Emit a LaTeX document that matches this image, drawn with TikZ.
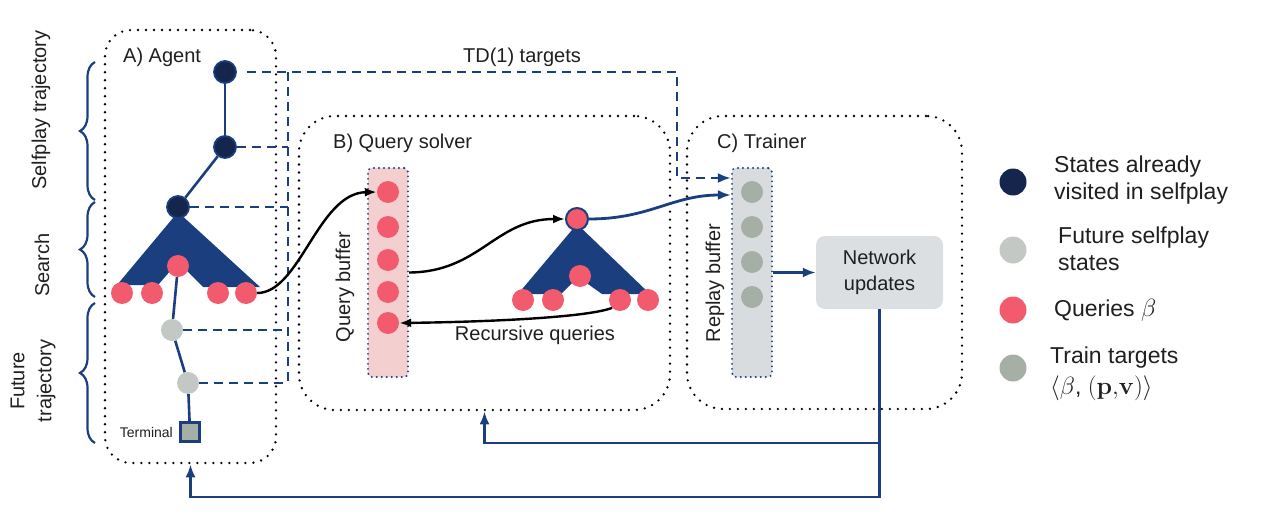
\documentclass[tikz,border=0pt]{standalone}
\usepackage[no-math]{fontspec}
\setmainfont{Liberation Sans}
\usetikzlibrary{arrows.meta,decorations.pathreplacing,calc}
\definecolor{dblue}{HTML}{1B3F7E}
\definecolor{navy}{HTML}{14264C}
\definecolor{qpink}{HTML}{F25A6E}
\definecolor{fgray}{HTML}{C4C8C4}
\definecolor{tgray}{HTML}{A6AFA5}
\definecolor{qbfill}{HTML}{F3CFCF}
\definecolor{rbfill}{HTML}{D8DCDF}
\definecolor{nufill}{HTML}{DCDFE2}
\begin{document}
\begin{tikzpicture}[x=1pt,y=-1pt,
 box/.style={draw=black, line width=2.6pt, dash pattern=on 0pt off 8pt, line cap=round, rounded corners=30pt, inner sep=0pt},
 buf/.style={draw=dblue, line width=2.2pt, dash pattern=on 0pt off 5pt, line cap=round, rounded corners=4pt, minimum width=40pt, minimum height=209pt, inner sep=0pt},
 dnode/.style={circle, fill=navy, draw=dblue, line width=1.8pt, minimum size=22pt, inner sep=0pt},
 qnode/.style={circle, fill=qpink, minimum size=22pt, inner sep=0pt},
 fnode/.style={circle, fill=fgray, minimum size=22pt, inner sep=0pt},
 tnode/.style={circle, fill=tgray, minimum size=22pt, inner sep=0pt},
 solidl/.style={draw=dblue, line width=2.6pt},
 tdl/.style={draw=dblue, line width=2.8pt, dash pattern=on 9pt off 6pt},
 curvek/.style={draw=black, line width=2.4pt, -{Latex[length=12pt,width=9pt]}},
 arrb/.style={draw=dblue, line width=2.8pt, -{Latex[length=13pt,width=10pt]}},
 lbl/.style={font=\fontsize{20}{23}\selectfont, text=black!88, inner sep=0pt},
 leg/.style={font=\fontsize{23}{27}\selectfont, text=black!88, inner sep=0pt, anchor=west, align=left},
 brc/.style={draw=dblue, line width=2.2pt, decorate, decoration={brace, amplitude=15pt}},
]
\useasboundingbox (0,0) rectangle (1275,527);

% boxes
\node[box, minimum width=171pt, minimum height=433pt, rounded corners=26pt] (A) at (190.5,246.5) {};
\node[box, minimum width=371pt, minimum height=294pt, rounded corners=36pt] (B) at (484.5,263) {};
\node[box, minimum width=275pt, minimum height=293pt, rounded corners=36pt] (C) at (824.5,262.5) {};

\node[lbl, anchor=west] (Alb) at (123,57) {A) Agent};
\node[lbl, anchor=west] (Blb) at (333,143) {B) Query solver};
\node[lbl, anchor=west] (Clb) at (717,143) {C) Trainer};
\node[lbl] (tdlb) at (522,57) {TD(1) targets};

% braces and side labels
\draw[brc] (95,200) -- (95,62);
\draw[brc] (95,297) -- (95,202);
\draw[brc] (95,443) -- (95,303);
\node[lbl, rotate=90] (l1) at (41,110) {Selfplay trajectory};
\node[lbl, rotate=90] (l2) at (42,265) {Search};
\node[lbl, rotate=90, align=center, font=\fontsize{20}{27}\selectfont] (l3) at (33,381) {Future\\trajectory};

% agent tree
\fill[dblue] (178,212) -- (117,285) -- (158,285) -- (178,262) -- (203,287) -- (260,287) -- cycle;
\node[dnode] (s1) at (225,72) {};
\node[dnode] (s2) at (225,147) {};
\node[dnode] (s3) at (178,207) {};
\draw[solidl] (s1) -- (s2);
\draw[solidl] (s2) -- (s3);
\node[qnode] (am) at (178,266) {};
\node[qnode] (a1) at (122,293) {};
\node[qnode] (a2) at (152,293) {};
\node[qnode] (a3) at (218,293) {};
\node[qnode] (a4) at (246,293) {};
\node[fnode] (f1) at (172,330) {};
\node[fnode] (f2) at (188,383) {};
\node[draw=dblue, line width=2.8pt, fill=tgray, minimum size=19pt, inner sep=0pt] (term) at (190,432) {};
\node[anchor=east, font=\fontsize{14}{16}\selectfont, text=black!88, inner sep=0pt] (termlb) at (173,432) {Terminal};
\draw[solidl] (am) -- (f1);
\draw[solidl] (f1) -- (f2);
\draw[solidl] (f2) -- (term);

% TD(1) dashed targets
\coordinate (v1) at (288,72);
\coordinate (v2) at (288,383);
\coordinate (td1) at (677,72);
\coordinate (td2) at (677,178);

% query buffer
\node[buf, fill=qbfill] (qb) at (388,272.5) {};
\node[qnode] (q1) at (388,192) {};
\node[qnode] (q2) at (388,227) {};
\node[qnode] (q3) at (388,260) {};
\node[qnode] (q4) at (388,292) {};
\node[qnode] (q5) at (388,323) {};
\node[lbl, rotate=90] (qblb) at (345,287) {Query buffer};

% replay buffer
\node[buf, fill=rbfill] (rb) at (752,272.5) {};
\node[tnode] (r1) at (752,192) {};
\node[tnode] (r2) at (752,227) {};
\node[tnode] (r3) at (752,262) {};
\node[tnode] (r4) at (752,297) {};
\node[lbl, rotate=90] (rblb) at (715,283) {Replay buffer};

\draw[tdl, -{Latex[length=13pt,width=10pt]}] ($(s1.east)+(10,0)$) -- (td1) -- (td2) -- (td2 -| rb.west);
\draw[tdl] (v1) -- (v2);
\draw[tdl] (s2.east) -- (s2 -| v1);
\draw[tdl] (s3.east) -- (s3 -| v1);
\draw[tdl] (f1.east) -- (f1 -| v1);
\draw[tdl] (f2.east) -- (f2 -| v1);

% query solver tree
\fill[dblue] (577,224) -- (518,294) -- (561,294) -- (578,277) -- (602,294) -- (650,294) -- cycle;
\node[circle, fill=qpink, draw=dblue, line width=2pt, minimum size=22pt, inner sep=0pt] (bt) at (577,219) {};
\node[qnode] (bm) at (580,276) {};
\node[qnode] (b1) at (523,300) {};
\node[qnode] (b2) at (553,300) {};
\node[qnode] (b3) at (620,300) {};
\node[qnode] (b4) at (648,300) {};
\node[lbl] (rqlb) at (535,335) {Recursive queries};

% network updates
\node[fill=nufill, rounded corners=9pt, minimum width=127pt, minimum height=73pt, align=center, font=\fontsize{20}{26}\selectfont, text=black!88, inner sep=0pt] (nu) at (879.5,272.5) {Network\\updates};

% curves
\draw[curvek] (a4.east) .. controls (300,293) and (318,193) .. (q1.west);
\draw[curvek] (qb.east) .. controls (480,272) and (495,219) .. (bt.west);
\draw[curvek] (b3.south west) .. controls (585,318) and (480,322) .. (q5.east);
\draw[arrb] (bt.east) .. controls (650,219) and (672,195) .. ($(rb.west)+(0,-77.5)$);
\draw[arrb] (rb.east) -- (nu.west);

% feedback
\coordinate (fb1) at (879.5,497);
\coordinate (fb2) at (879.5,443);
\draw[arrb] (nu.south) -- (fb1) -| (A.south);
\draw[arrb] (fb2) -| (B.south);

% legend
\node[circle, fill=navy, minimum size=27pt, inner sep=0pt] (g1) at (1013,182) {};
\node[circle, fill=fgray, minimum size=27pt, inner sep=0pt] (g2) at (1013,250) {};
\node[circle, fill=qpink, minimum size=27pt, inner sep=0pt] (g3) at (1013,310) {};
\node[circle, fill=tgray, minimum size=27pt, inner sep=0pt] (g4) at (1013,368) {};
\node[leg] (gl1) at (1054,180) {States already\\visited in selfplay};
\node[leg] (gl2) at (1058,249) {Future selfplay\\states};
\node[leg] (gl3) at (1054,310) {Queries $\beta$};
\node[leg] (gl4) at (1050,374) {Train targets\\[4pt]$\langle\beta$, $(\mathbf{p},\!\mathbf{v})\rangle$};
\end{tikzpicture}
\end{document}
